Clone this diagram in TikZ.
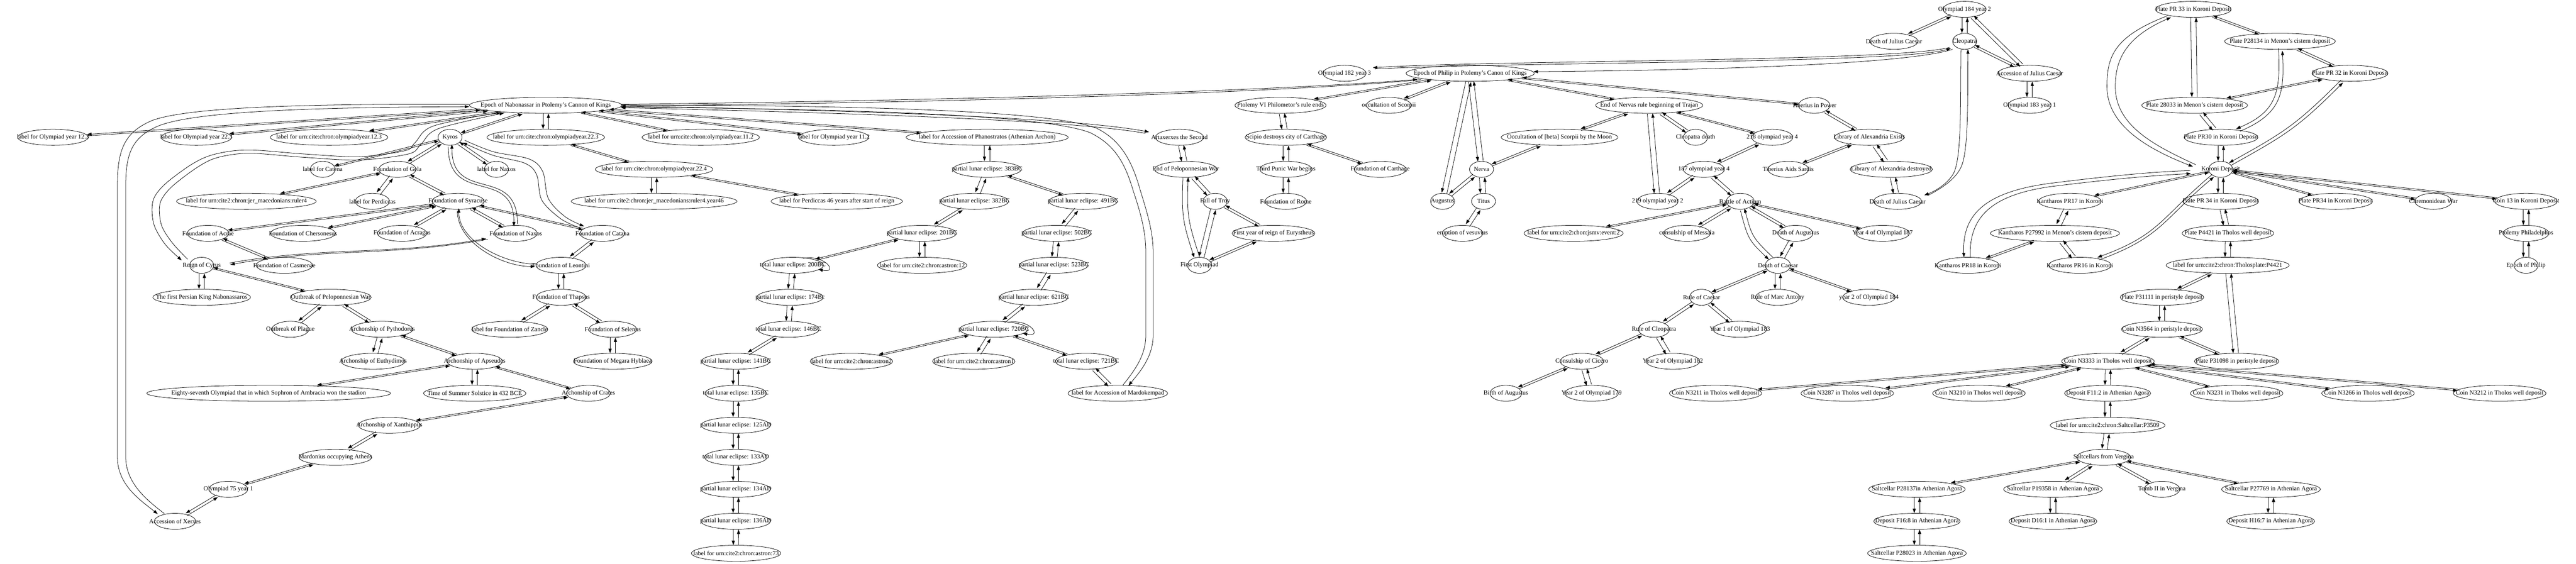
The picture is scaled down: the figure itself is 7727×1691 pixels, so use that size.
\documentclass[tikz,border=0pt]{standalone}
\usepackage{fontspec}
\setmainfont{Liberation Serif}
\usetikzlibrary{arrows.meta,calc,shapes.geometric}
\newlength\gw
\newcommand\gfont{\fontsize{14pt}{16.8pt}\selectfont}
\newcommand\gn[4]{\settowidth{\gw}{\gfont #4}\node[gnode,minimum width={max(1.305*\gw+20.67pt,54pt)}] (#1) at (#2,#3) {#4};}
\newcommand\pairsetup[2]{%
 \pgfmathanglebetweenpoints{\pgfpointanchor{#1}{center}}{\pgfpointanchor{#2}{center}}%
 \let\pang\pgfmathresult
 \pgfmathsetmacro\psh{max(1.6,6*abs(sin(\pang)))}}
\newcommand\spair[2]{\pairsetup{#1}{#2}%
 \draw[gedge,transform canvas={shift={(\pang-90:\psh pt)}}] (#1) -- (#2);
 \draw[gedge,transform canvas={shift={(\pang+90:\psh pt)}}] (#2) -- (#1);}
\newcommand\cpair[5]{\pairsetup{#1}{#2}%
 \draw[gedge,transform canvas={shift={(\pang-90:\psh pt)}}] (#1.#3) .. controls ($(#1.#3)+(#3:#5)$) and ($(#2.#4)+(#4:#5)$) .. (#2.#4);
 \draw[gedge,transform canvas={shift={(\pang+90:\psh pt)}}] (#2.#4) .. controls ($(#2.#4)+(#4:#5)$) and ($(#1.#3)+(#3:#5)$) .. (#1.#3);}
\newcommand\lpr[1]{\draw[gedge] ($(#1.east)+(-62,-21)$) .. controls +(70,-12) and +(60,14) .. ($(#1.east)+(-16,12)$);}
\begin{document}
\begin{tikzpicture}[x=0.75pt,y=-0.75pt,
 gnode/.style={ellipse,draw,line width=0.9pt,inner xsep=-25pt,inner ysep=0pt,minimum height=36pt,font=\gfont},
 gedge/.style={draw,line width=0.9pt,-{Triangle[length=10pt,width=7pt]}}]
\fill[white] (0,0) rectangle (7727,1691);
\useasboundingbox (0,0) rectangle (7727,1691);
% ---------- left cluster
\gn{o123}{159}{412}{label for Olympiad year 12.3}
\gn{o223}{589}{412}{label for Olympiad year 22.3}
\gn{u123}{987}{412}{label for urn:cite:chron:olympiadyear.12.3}
\gn{nab}{1637}{316}{Epoch of Nabonassar in Ptolemy’s Cannon of Kings}
\gn{kyros}{1350}{412}{Kyros}
\gn{u223}{1637}{412}{label for urn:cite:chron:olympiadyear.22.3}
\gn{u112}{2102}{412}{label for urn:cite:chron:olympiadyear.11.2}
\gn{o112}{2501}{412}{label for Olympiad year 11.2}
\gn{catena}{968}{508}{label for Catena}
\gn{gela}{1192}{508}{Foundation of Gela}
\gn{lnaxos}{1489}{508}{label for Naxos}
\gn{u224}{1962}{508}{label for urn:cite:chron:olympiadyear.22.4}
\gn{ruler4}{739}{604}{label for urn:cite2:chron:jer\_macedonians:ruler4}
\gn{perd}{1117}{604}{label for Perdiccas}
\gn{syr}{1374}{604}{Foundation of Syracuse}
\gn{yr46}{1962}{604}{label for urn:cite2:chron:jer\_macedonians:ruler4.year46}
\gn{perd46}{2510}{604}{label for Perdiccas 46 years after start of reign}
\gn{acrae}{624}{700}{Foundation of Acrae}
\gn{chers}{909}{700}{Foundation of Chersonesus}
\gn{acragas}{1206}{700}{Foundation of Acragas}
\gn{fnaxos}{1547}{700}{Foundation of Naxos}
\gn{catana}{1807}{700}{Foundation of Catana}
\gn{cyrus}{605}{796}{Reign of Cyrus}
\gn{casm}{853}{796}{Foundation of Casmenae}
\gn{leont}{1683}{796}{Foundation of Leontini}
\gn{nabon}{605}{892}{The first Persian King Nabonassaros}
\gn{opw}{992}{892}{Outbreak of Peloponnesian War}
\gn{thapsus}{1683}{892}{Foundation of Thapsus}
\gn{plague}{871}{988}{Outbreak of Plague}
\gn{pytho}{1146}{988}{Archonship of Pythodorus}
\gn{zancle}{1529}{988}{label for Foundation of Zancle}
\gn{selenus}{1838}{988}{Foundation of Selenus}
\gn{euthy}{1119}{1084}{Archonship of Euthydimos}
\gn{apseu}{1424}{1084}{Archonship of Apseudes}
\gn{megara}{1838}{1084}{Foundation of Megara Hyblaea}
\gn{eighty}{806}{1180}{Eighty-seventh Olympiad that in which Sophron of Ambracia won the stadion}
\gn{solst}{1424}{1180}{Time of Summer Solstice in 432 BCE}
\gn{crates}{1765}{1180}{Archonship of Crates}
\gn{xanth}{1168}{1276}{Archonship of Xanthippus}
\gn{mard}{1006}{1372}{Mardonius occupying Athens}
\gn{o751}{685}{1468}{Olympiad 75 year 1}
\gn{xerxes}{525}{1564}{Accession of Xerxes}
% ---------- eclipse cluster
\gn{phano}{2961}{412}{label for Accession of Phanostratos (Athenian Archon)}
\gn{e383}{2961}{508}{partial lunar eclipse: 383BC}
\gn{e382}{2923}{604}{partial lunar eclipse: 382BC}
\gn{e491}{3249}{604}{partial lunar eclipse: 491BC}
\gn{e201}{2766}{700}{partial lunar eclipse: 201BC}
\gn{e502}{3170}{700}{partial lunar eclipse: 502BC}
\gn{a12}{2766}{796}{label for urn:cite2:chron:astron:12}
\gn{e200}{2378}{796}{total lunar eclipse: 200BC}
\gn{e523}{3161}{796}{partial lunar eclipse: 523BC}
\gn{e174}{2370}{892}{partial lunar eclipse: 174Bc}
\gn{e621}{3101}{892}{partial lunar eclipse: 621BC}
\gn{e146}{2365}{988}{total lunar eclipse: 146BC}
\gn{e720}{2981}{988}{partial lunar eclipse: 720BC}
\gn{e141}{2207}{1084}{partial lunar eclipse: 141BC}
\gn{a2}{2554}{1084}{label for urn:cite2:chron:astron2}
\gn{a1}{2921}{1084}{label for urn:cite2:chron:astron1}
\gn{e721}{3258}{1084}{total lunar eclipse: 721BC}
\gn{e135}{2207}{1180}{total lunar eclipse: 135BC}
\gn{mardo}{3353}{1180}{label for Accession of Mardokempad}
\gn{e125}{2207}{1276}{partial lunar eclipse: 125AD}
\gn{e133}{2207}{1372}{total lunar eclipse: 133AD}
\gn{e134}{2207}{1468}{partial lunar eclipse: 134AD}
\gn{e136}{2207}{1564}{partial lunar eclipse: 136AD}
\gn{a73}{2208}{1660}{label for urn:cite2:chron:astron:73}
% ---------- middle
\gn{artax}{3538}{412}{Artaxerxes the Second}
\gn{epw}{3557}{508}{End of Peloponnesian War}
\gn{troy}{3645}{604}{Fall of Troy}
\gn{eury}{3820}{700}{First year of reign of Eurystheus}
\gn{firstol}{3598}{796}{First Olympiad}
\gn{ptol6}{3841}{316}{Ptolemy VI Philometor’s rule ends}
\gn{scipio}{3857}{412}{Scipio destroys city of Carthage}
\gn{punic}{3857}{508}{Third Punic War begins}
\gn{rome}{3857}{604}{Foundation of Rome}
\gn{carth}{4140}{508}{Foundation of Carthage}
\gn{o1823}{4033}{220}{Olympiad 182 year 3}
\gn{philip}{4410}{220}{Epoch of Philip in Ptolemy’s Canon of Kings}
\gn{occs}{4166}{316}{occultation of Scorpii}
\gn{nervas}{4947}{316}{End of Nervas rule beginning of Trajan}
\gn{occb}{4678}{412}{Occultation of [beta] Scorpii by the Moon}
\gn{cleod}{5086}{412}{Cleopatra death}
\gn{nerva}{4444}{508}{Nerva}
\gn{o1874}{5111}{508}{187 olympiad year 4}
\gn{augustus}{4327}{604}{Augustus}
\gn{titus}{4450}{604}{Titus}
\gn{o2192}{4972}{604}{219 olympiad year 2}
\gn{actium}{5220}{604}{Battle of Actium}
\gn{vesuv}{4387}{700}{eruption of vesuvius}
\gn{jsmv}{4720}{700}{label for urn:cite2:chon:jsmv:event:2}
\gn{messala}{5060}{700}{consulship of Messala}
\gn{dcaesar}{5333}{796}{Death of Caesar}
\gn{rcaesar}{5104}{892}{Rule of Caesar}
\gn{antony}{5332}{892}{Rule of Marc Antony}
\gn{y184}{5606}{892}{year 2 of Olympiad 184}
\gn{rcleo}{4961}{988}{Rule of Cleopatra}
\gn{y1831}{5219}{988}{Year 1 of Olympiad 183}
\gn{cicero}{4745}{1084}{Consulship of Cicero}
\gn{y1822}{5018}{1084}{Year 2 of Olympiad 182}
\gn{baug}{4517}{1180}{Birth of Augustus}
\gn{y179}{4774}{1180}{Year 2 of Olympiad 179}
% ---------- right
\gn{o1842}{5893}{28}{Olympiad 184 year 2}
\gn{djc1}{5681}{124}{Death of Julius Caesar}
\gn{cleo}{5893}{124}{Cleopatra}
\gn{accjc}{6088}{220}{Accession of Julius Caesar}
\gn{tib}{5442}{316}{Tiberius in Power}
\gn{o1831}{6088}{316}{Olympiad 183 year 1}
\gn{o2184}{5316}{412}{218 olympiad year 4}
\gn{libex}{5607}{412}{Library of Alexandria Exists}
\gn{sardis}{5364}{508}{Tiberius Aids Sardis}
\gn{libde}{5673}{508}{Library of Alexandria destroyed}
\gn{djc2}{5692}{604}{Death of Julius Caesar}
\gn{daug}{5386}{700}{Death of Augustus}
\gn{y1874}{5647}{700}{Year 4 of Olympiad 187}
\gn{kpr17}{6209}{604}{Kantharos PR17 in Koroni}
\gn{kp27992}{6164}{700}{Kantharos P27992 in Menon’s cistern deposit}
\gn{kpr18}{5903}{796}{Kantharos PR18 in Koroni}
\gn{kpr16}{6239}{796}{Kantharos PR16 in Koroni}
% ---------- Koroni cluster
\gn{pr33}{6579}{28}{Plate PR 33 in Koroni Deposit}
\gn{p28134}{6839}{124}{Plate P28134 in Menon’s cistern deposit}
\gn{pr32}{7049}{220}{Plate PR 32 in Koroni Deposit}
\gn{p28033}{6583}{316}{Plate 28033 in Menon’s cistern deposit}
\gn{pr30}{6662}{412}{Plate PR30 in Koroni Deposit}
\gn{koroni}{6661}{508}{Koroni Deposit}
\gn{pr34a}{6661}{604}{Plate PR 34 in Koroni Deposit}
\gn{pr34b}{7006}{604}{Plate PR34 in Koroni Deposit}
\gn{chrem}{7299}{604}{Chremonidean War}
\gn{coin13}{7577}{604}{Coin 13 in Koroni Deposit}
\gn{p4421}{6683}{700}{Plate P4421 in Tholos well deposit}
\gn{phil2}{7577}{700}{Ptolemy Philadelphos}
\gn{lp4421}{6682}{796}{label for urn:cite2:chron:Tholosplate:P4421}
\gn{ephil}{7577}{796}{Epoch of Philip}
\gn{p31111}{6485}{892}{Plate P31111 in peristyle deposit}
\gn{n3564}{6485}{988}{Coin N3564 in peristyle deposit}
\gn{n3333}{6323}{1084}{Coin N3333 in Tholos well deposit}
\gn{p31098}{6709}{1084}{Plate P31098 in peristyle deposit}
\gn{n3211}{5146}{1180}{Coin N3211 in Tholos well deposit}
\gn{n3287}{5541}{1180}{Coin N3287 in Tholos well deposit}
\gn{n3210}{5936}{1180}{Coin N3210 in Tholos well deposit}
\gn{f112}{6322}{1180}{Deposit F11:2 in Athenian Agora}
\gn{n3231}{6709}{1180}{Coin N3231 in Tholos well deposit}
\gn{n3266}{7103}{1180}{Coin N3266 in Tholos well deposit}
\gn{n3212}{7498}{1180}{Coin N3212 in Tholos well deposit}
\gn{lsalt}{6322}{1276}{label for urn:cite2:chron:Saltcellar:P3509}
\gn{vergina}{6310}{1372}{Saltcellars from Vergina}
\gn{s28137}{5750}{1468}{Saltcellar P28137in Athenian Agora}
\gn{s19358}{6158}{1468}{Saltcellar P19358 in Athenian Agora}
\gn{tomb}{6485}{1468}{Tomb II in Vergina}
\gn{s27769}{6812}{1468}{Saltcellar P27769 in Athenian Agora}
\gn{f168}{5750}{1564}{Deposit F16:8 in Athenian Agora}
\gn{d161}{6158}{1564}{Deposit D16:1 in Athenian Agora}
\gn{h167}{6811}{1564}{Deposit H16:7 in Athenian Agora}
\gn{s28023}{5750}{1660}{Saltcellar P28023 in Athenian Agora}
% ================= edges
% left
\spair{nab}{o123}\spair{nab}{o223}\spair{nab}{u123}\spair{nab}{kyros}
\spair{nab}{u223}\spair{nab}{u112}\spair{nab}{o112}\spair{nab}{phano}
\draw[gedge] ($(nab.east)+(-4,2)$) .. controls (2500,330) and (3200,350) .. (3447,396);
\draw[gedge] (3436,400) .. controls (3200,358) and (2500,338) .. ($(nab.east)+(-4,7)$);
\spair{kyros}{catena}\spair{kyros}{gela}\spair{kyros}{lnaxos}
\cpair{kyros}{fnaxos}{-90}{90}{134pt}
\spair{gela}{ruler4}\spair{gela}{perd}\spair{gela}{syr}
\spair{syr}{acrae}\spair{syr}{chers}\spair{syr}{acragas}\spair{syr}{fnaxos}\spair{syr}{catana}
\cpair{syr}{leont}{-90}{180}{73pt}
\spair{acrae}{casm}\spair{cyrus}{nabon}\spair{cyrus}{opw}
\draw[gedge] (689,789) .. controls (974,739) and (1163,767) .. (1458,716);
\draw[gedge] (1463,718) .. controls (1163,771) and (974,743) .. (691,794);
\spair{catana}{leont}\spair{leont}{thapsus}\spair{thapsus}{zancle}\spair{thapsus}{selenus}\spair{selenus}{megara}
\spair{opw}{plague}\spair{opw}{pytho}\spair{pytho}{euthy}\spair{pytho}{apseu}
\spair{apseu}{solst}\spair{apseu}{crates}\spair{apseu}{eighty}\spair{crates}{xanth}
\spair{xanth}{mard}\spair{mard}{o751}\spair{o751}{xerxes}
\spair{u223}{u224}\spair{u224}{yr46}\spair{u224}{perd46}
% nab - xerxes
\draw[gedge] ($(nab.west)+(0,-3)$) .. controls (900,311) and (560,322) .. (455,362) .. controls (372,398) and (352,450) .. (352,560) -- (352,1370) .. controls (352,1455) and (420,1500) .. (473,1542);
\draw[gedge] (493,1541) .. controls (440,1500) and (377,1450) .. (377,1370) -- (377,560) .. controls (377,462) and (395,414) .. (470,380) .. controls (570,336) and (900,322) .. ($(nab.west)+(0,4)$);
% nab - cyrus
\draw[gedge] plot[smooth,tension=0.55] coordinates {(1500,337) (1300,378) (1245,428) (1215,452) (1078,470) (912,462) (746,450) (647,462) (580,490) (500,548) (464,590) (456,630) (464,680) (497,735) (545,781)};
\draw[gedge] plot[smooth,tension=0.55] coordinates {(563,778) (518,730) (486,680) (478,630) (486,596) (520,556) (595,500) (655,472) (750,460) (912,472) (1078,480) (1225,462) (1262,434) (1315,386) (1512,339)};
% kyros - catana
\draw[gedge] plot[smooth,tension=0.55] coordinates {(1394,421) (1479,455) (1587,477) (1628,515) (1645,596) (1695,650) (1752,679)};
\draw[gedge] plot[smooth,tension=0.55] coordinates {(1732,681) (1680,655) (1625,600) (1610,525) (1575,490) (1479,466) (1388,428)};
% nab - mardo
\draw[gedge] ($(nab.east)+(-4,-1)$) .. controls (2600,316) and (3150,332) .. (3290,385) .. controls (3360,420) and (3395,480) .. (3420,570) .. controls (3445,650) and (3459,700) .. (3459,760) -- (3459,1005) .. controls (3459,1070) and (3420,1115) .. (3385,1157);
\draw[gedge] (3368,1156) .. controls (3400,1115) and (3437,1070) .. (3437,1005) -- (3437,760) .. controls (3437,700) and (3425,650) .. (3400,575) .. controls (3375,490) and (3345,435) .. (3270,398) .. controls (3130,345) and (2600,328) .. ($(nab.east)+(-4,5)$);
% nab - philip
\draw[gedge] ($(nab.east)+(-3,-3)$) .. controls (3000,300) and (3900,268) .. (4252,238);
\draw[gedge] (4262,239) .. controls (3900,274) and (3000,306) .. ($(nab.east)+(-3,2)$);
% eclipses
\spair{phano}{e383}\spair{e383}{e382}\spair{e383}{e491}\spair{e382}{e201}
\spair{e201}{a12}\spair{e201}{e200}\spair{e200}{e174}\spair{e174}{e146}
\spair{e146}{e141}\spair{e141}{e135}\spair{e135}{e125}\spair{e125}{e133}
\spair{e133}{e134}\spair{e134}{e136}\spair{e136}{a73}
\spair{e491}{e502}\spair{e502}{e523}\spair{e523}{e621}\spair{e621}{e720}
\spair{e720}{a2}\spair{e720}{a1}\spair{e720}{e721}\spair{e721}{mardo}
\lpr{e200}\lpr{e720}
% middle
\spair{artax}{epw}\spair{epw}{troy}
\cpair{epw}{firstol}{-92}{108}{85pt}
\spair{troy}{firstol}\spair{troy}{eury}\spair{eury}{firstol}
\spair{philip}{ptol6}\spair{ptol6}{scipio}\spair{scipio}{punic}\spair{punic}{rome}\spair{scipio}{carth}
\spair{philip}{occs}\spair{philip}{nerva}\spair{philip}{augustus}\spair{philip}{nervas}\spair{philip}{tib}
\spair{nerva}{augustus}\spair{nerva}{titus}\spair{nerva}{occb}\spair{titus}{vesuv}
\spair{nervas}{occb}\spair{nervas}{o2192}\spair{nervas}{cleod}\spair{nervas}{o2184}
\spair{o1874}{o2192}\spair{o1874}{o2184}\spair{o1874}{actium}
\spair{actium}{jsmv}\spair{actium}{messala}\spair{actium}{daug}\spair{actium}{y1874}
\cpair{actium}{dcaesar}{-75}{136}{65pt}
\spair{daug}{dcaesar}\spair{dcaesar}{rcaesar}\spair{dcaesar}{antony}\spair{dcaesar}{y184}
\spair{rcaesar}{rcleo}\spair{rcaesar}{y1831}\spair{rcleo}{cicero}\spair{rcleo}{y1822}
\spair{cicero}{baug}\spair{cicero}{y179}
% cleopatra links to the left
\draw[gedge] (5848,142) .. controls (5700,185) and (4500,180) .. (4118,203);
\draw[gedge] (4124,207) .. controls (4500,186) and (5700,191) .. (5852,145);
\draw[gedge] (5857,148) .. controls (5700,198) and (5000,212) .. ($(philip.east)+(-3,-5)$);
% right
\spair{o1842}{djc1}\spair{o1842}{cleo}\spair{o1842}{accjc}\spair{cleo}{accjc}\spair{accjc}{o1831}
\spair{tib}{libex}\spair{libex}{sardis}\spair{libex}{libde}\spair{libde}{djc2}
\draw[gedge] (5882,148) .. controls (5880,300) and (5885,470) .. (5860,520) .. controls (5840,555) and (5800,575) .. (5772,586);
\draw[gedge] (5782,587) .. controls (5820,567) and (5865,540) .. (5883,500) .. controls (5905,450) and (5902,300) .. (5903,148);
% kantharos
\spair{kpr17}{kp27992}\spair{kp27992}{kpr18}\spair{kp27992}{kpr16}\spair{kpr17}{koroni}
\cpair{kpr16}{koroni}{20}{-140}{150pt}
\draw[gedge] (5910,772) .. controls (5905,650) and (5975,585) .. (6150,560) .. controls (6350,535) and (6480,525) .. (6572,521);
\draw[gedge] (6570,512) .. controls (6480,514) and (6350,525) .. (6150,550) .. controls (5960,575) and (5885,640) .. (5891,772);
% koroni cluster
\spair{pr33}{p28134}\spair{pr33}{p28033}\spair{p28134}{pr32}
\cpair{p28134}{pr30}{-87}{23}{99pt}
\spair{pr32}{p28033}
\cpair{pr32}{koroni}{-135}{29}{142pt}
\spair{p28033}{pr30}\spair{pr30}{koroni}
\draw[gedge] (6500,48) .. controls (6340,110) and (6320,170) .. (6320,260) .. controls (6320,380) and (6450,450) .. (6578,500);
\draw[gedge] (6586,494) .. controls (6470,440) and (6345,380) .. (6345,260) .. controls (6345,175) and (6380,110) .. (6512,52);
\spair{koroni}{pr34a}\spair{koroni}{pr34b}\spair{koroni}{chrem}\spair{koroni}{coin13}
\spair{coin13}{phil2}\spair{phil2}{ephil}
\spair{pr34a}{p4421}\spair{p4421}{lp4421}\spair{lp4421}{p31111}\spair{lp4421}{p31098}
\spair{p31111}{n3564}\spair{n3564}{n3333}\spair{n3564}{p31098}
\spair{n3333}{n3211}\spair{n3333}{n3287}\spair{n3333}{n3210}\spair{n3333}{f112}
\spair{n3333}{n3231}\spair{n3333}{n3266}\spair{n3333}{n3212}
\spair{f112}{lsalt}\spair{lsalt}{vergina}
\spair{vergina}{s28137}\spair{vergina}{s19358}\spair{vergina}{tomb}\spair{vergina}{s27769}
\spair{s28137}{f168}\spair{f168}{s28023}\spair{s19358}{d161}\spair{s27769}{h167}
\end{tikzpicture}
\end{document}
